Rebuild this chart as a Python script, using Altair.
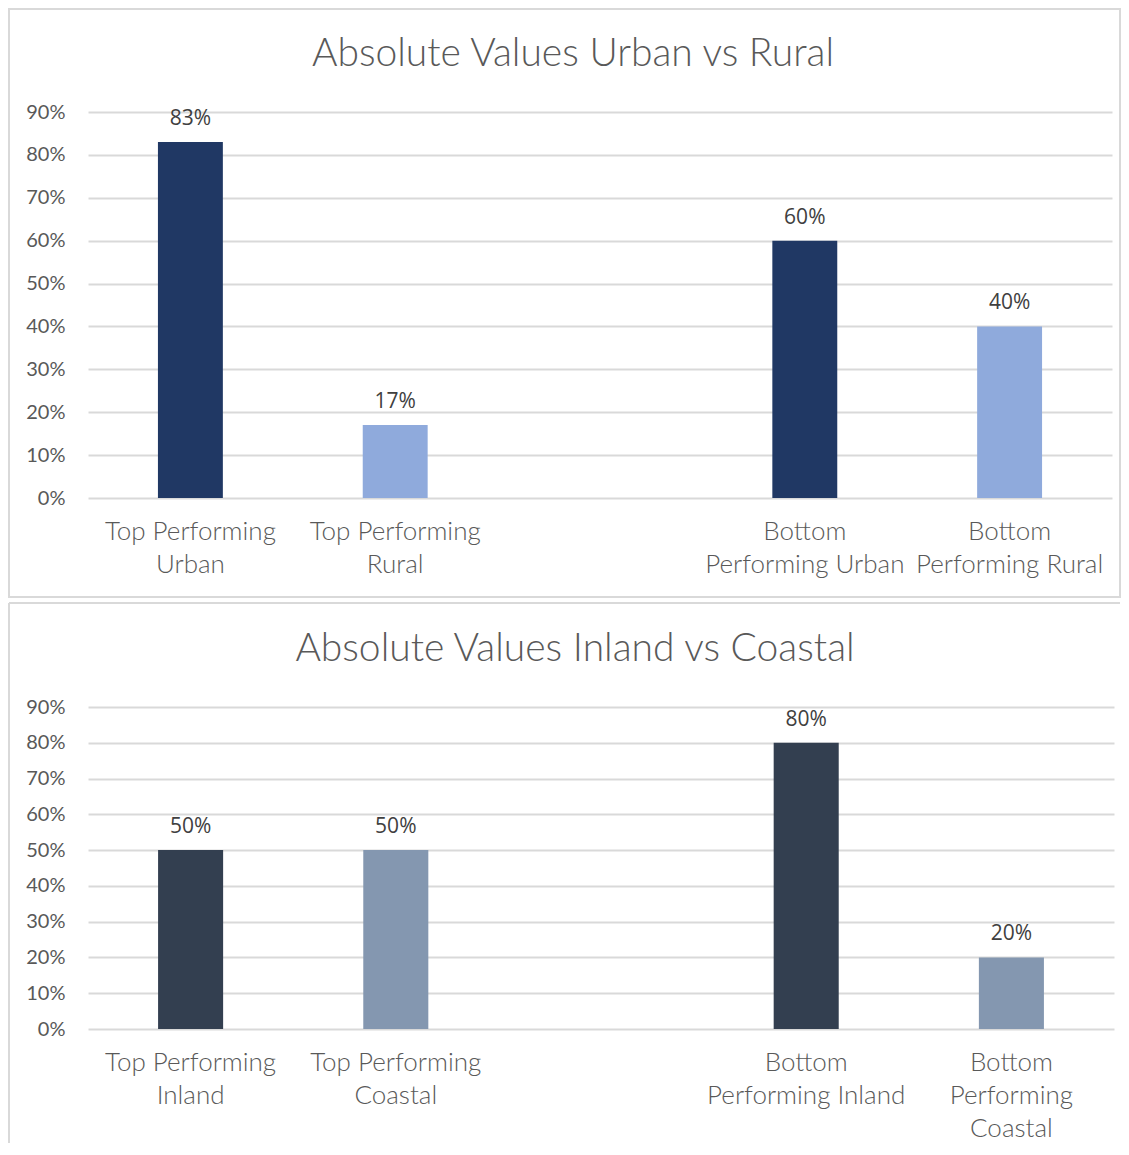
import altair as alt
import pandas as pd

# ---- data ----
top_title = "Absolute Values Urban vs Rural"
top_categories = ["Top Performing|Urban", "Top Performing|Rural", " ",
                  "Bottom|Performing Urban", "Bottom|Performing Rural"]
top_bar_categories = ["Top Performing|Urban", "Top Performing|Rural",
                      "Bottom|Performing Urban", "Bottom|Performing Rural"]
top_groups = ["Urban", "Rural", "Urban", "Rural"]
top_values = [0.83, 0.17, 0.60, 0.40]

bot_title = "Absolute Values Inland vs Coastal"
bot_categories = ["Top Performing|Inland", "Top Performing|Coastal", " ",
                  "Bottom|Performing Inland", "Bottom|Performing|Coastal"]
bot_bar_categories = ["Top Performing|Inland", "Top Performing|Coastal",
                      "Bottom|Performing Inland", "Bottom|Performing|Coastal"]
bot_groups = ["Inland", "Coastal", "Inland", "Coastal"]
bot_values = [0.50, 0.50, 0.80, 0.20]

y_ticks = [0, 0.1, 0.2, 0.3, 0.4, 0.5, 0.6, 0.7, 0.8, 0.9]

GRID = "#D9D9D9"
LABEL = "#595959"


def panel(title, cats, bar_cats, groups, values, color_domain, color_range,
          width, height, title_x, title_y, full_border):
    df = pd.DataFrame({"cat": bar_cats, "group": groups, "value": values})
    x = alt.X("cat:N", sort=cats,
              scale=alt.Scale(domain=cats, paddingInner=0.683, paddingOuter=0.3415),
              axis=alt.Axis(title=None, labelExpr="split(datum.label, '|')",
                            labelAngle=0, domain=False, ticks=False,
                            labelFont="Lato", labelFontWeight=300,
                            labelFontSize=26, labelColor=LABEL,
                            labelLineHeight=33, labelPadding=20, labelLimit=400,
                            labelOverlap=False, grid=False))
    y = alt.Y("value:Q",
              scale=alt.Scale(domain=[0, 0.9], nice=False),
              axis=alt.Axis(title=None, values=y_ticks, tickCount=10, format=".0%",
                            domain=False, ticks=False, labelFont="Lato",
                            labelFontSize=20, labelColor=LABEL, labelPadding=23,
                            labelOverlap=False,
                            grid=True, gridColor=GRID, gridWidth=2))
    base = alt.Chart(df)
    bars = base.mark_bar().encode(
        x=x, y=y,
        color=alt.Color("group:N", scale=alt.Scale(domain=color_domain, range=color_range),
                        legend=None),
    )
    labels = base.mark_text(font="Open Sans", fontSize=21, color="#404040",
                            baseline="alphabetic", dy=-17).encode(
        x=x, y=y, text=alt.Text("value:Q", format=".0%"))
    tdf = pd.DataFrame({"t": [title]})
    ttl = alt.Chart(tdf).mark_text(font="Lato", fontWeight=300, fontSize=39, color=LABEL,
                                   baseline="alphabetic", align="center").encode(
        text="t:N", x=alt.value(title_x), y=alt.value(title_y))
    bdf = pd.DataFrame({"b": [1]})
    if full_border:
        border = alt.Chart(bdf).mark_rect(fill=None, stroke=GRID, strokeWidth=2).encode(
            x=alt.value(-79), x2=alt.value(1032), y=alt.value(-103), y2=alt.value(485))
        layers = [border]
    else:
        top_line = alt.Chart(bdf).mark_rule(stroke=GRID, strokeWidth=2).encode(
            x=alt.value(-79), x2=alt.value(1032), y=alt.value(-104))
        left_line = alt.Chart(bdf).mark_rule(stroke=GRID, strokeWidth=2).encode(
            x=alt.value(-79), y=alt.value(-104), y2=alt.value(436))
        layers = [top_line, left_line]
    return alt.layer(*layers, bars, labels, ttl).properties(width=width, height=height)


top = panel(top_title, top_categories, top_bar_categories, top_groups, top_values,
            ["Urban", "Rural"], ["#203864", "#8FAADC"], 1024, 386, 485, -46, True)
bot = panel(bot_title, bot_categories, bot_bar_categories, bot_groups, bot_values,
            ["Inland", "Coastal"], ["#333F50", "#8497B0"], 1026, 322, 487, -46, False)

chart = alt.vconcat(top, bot, spacing=4).resolve_scale(
    x="independent", y="independent", color="independent"
).properties(padding=0).configure_view(strokeWidth=0)

chart.save("out.html", embed_options={"renderer": "svg", "actions": False})
